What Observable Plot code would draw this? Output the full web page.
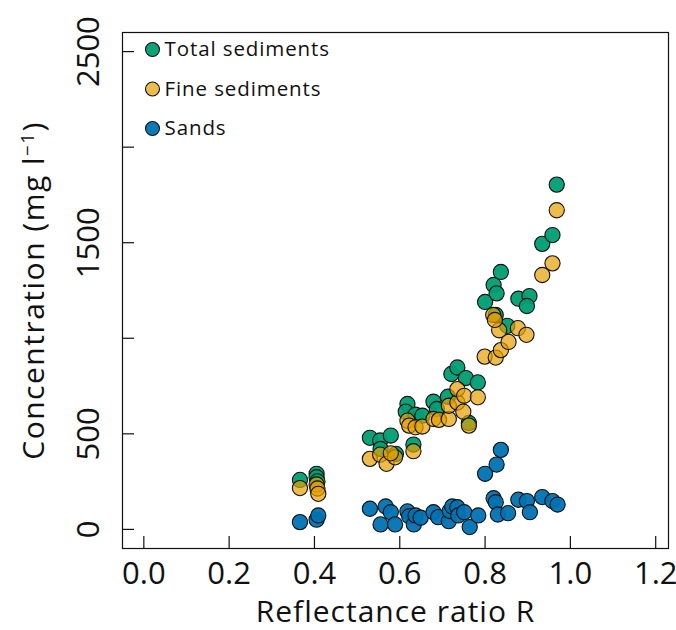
<!DOCTYPE html>
<html>
<head>
<meta charset="utf-8">
<script src="https://cdn.jsdelivr.net/npm/d3@7"></script>
<script src="https://cdn.jsdelivr.net/npm/@observablehq/plot@0.6"></script>
<style>
  body { margin: 0; background: #fff; }
  #chart svg { font-family: "Open Sans", Lato, sans-serif; }
</style>
</head>
<body>
<div id="chart"></div>
<script>
// Series names and colours
const seriesNames = ["Total sediments", "Fine sediments", "Sands"];
const seriesColors = ["#009E73", "#E69F00", "#0072B2"];
const seriesOpacity = [0.95, 0.7, 0.95];

// Total sediments: reflectance ratio R and concentration (mg/l)
const totalR = [0.366, 0.405, 0.405, 0.407, 0.530, 0.554, 0.579, 0.555, 0.591, 0.632,
  0.618, 0.614, 0.637, 0.653, 0.679, 0.687, 0.713, 0.721, 0.735, 0.755, 0.783, 0.762,
  0.800, 0.820, 0.827, 0.837, 0.825, 0.852, 0.878, 0.904, 0.898, 0.934, 0.958, 0.968];
const totalC = [259, 291, 273, 251, 479, 465, 491, 421, 395, 444,
  656, 616, 600, 595, 668, 630, 694, 813, 847, 792, 769, 557,
  1190, 1279, 1235, 1347, 1122, 1065, 1207, 1221, 1169, 1494, 1540, 1804];

// Fine sediments
const fineR = [0.366, 0.405, 0.407, 0.409, 0.530, 0.554, 0.569, 0.589, 0.579, 0.632,
  0.618, 0.622, 0.637, 0.653, 0.679, 0.692, 0.715, 0.715, 0.735, 0.735, 0.751, 0.749,
  0.783, 0.762, 0.799, 0.825, 0.837, 0.855, 0.833, 0.819, 0.823, 0.877, 0.897, 0.934,
  0.958, 0.968];
const fineC = [216, 235, 214, 186, 369, 391, 343, 377, 398, 409,
  569, 543, 534, 538, 578, 573, 578, 647, 664, 734, 699, 616,
  691, 543, 904, 899, 938, 981, 1042, 1122, 1096, 1053, 1018, 1331,
  1392, 1670];

// Sands
const sandR = [0.366, 0.405, 0.409, 0.530, 0.555, 0.567, 0.579, 0.589, 0.618, 0.622,
  0.633, 0.637, 0.649, 0.679, 0.690, 0.715, 0.717, 0.723, 0.735, 0.737, 0.751, 0.764,
  0.784, 0.800, 0.827, 0.837, 0.820, 0.825, 0.830, 0.854, 0.878, 0.898, 0.905, 0.934,
  0.958, 0.970];
const sandC = [38, 51, 73, 108, 26, 120, 90, 26, 94, 69,
  26, 73, 61, 90, 64, 43, 96, 120, 116, 73, 90, 12,
  73, 291, 339, 416, 163, 142, 78, 85, 155, 148, 90, 169,
  148, 130];

// Axis ticks
const xTicks = [0, 0.2, 0.4, 0.6, 0.8, 1.0, 1.2];
const yTicks = [0, 500, 1000, 1500, 2000, 2500];
const yTickLabels = [0, 500, 1500, 2500];

const toRows = (rs, cs, name) => rs.map((r, i) => ({R: r, C: cs[i], series: name}));
const seriesData = [
  toRows(totalR, totalC, seriesNames[0]),
  toRows(fineR, fineC, seriesNames[1]),
  toRows(sandR, sandC, seriesNames[2])
];

const dotMarks = seriesData.map((rows, i) =>
  Plot.dot(rows, {
    x: "R", y: "C", r: 7.6,
    fill: seriesColors[i], fillOpacity: seriesOpacity[i],
    stroke: "#111", strokeWidth: 1.1
  })
);

// Legend in the upper-left corner of the frame
const legendMarks = seriesNames.flatMap((name, i) => [
  Plot.dot([name], {
    frameAnchor: "top-left", dx: 30, dy: 17 + 39.5 * i, r: 7,
    fill: seriesColors[i], fillOpacity: seriesOpacity[i],
    stroke: "#111", strokeWidth: 1.1
  }),
  Plot.text([name], {
    frameAnchor: "top-left", dx: 42, dy: 17 + 39.5 * i, text: d => d,
    textAnchor: "start", lineAnchor: "middle", fontSize: 20.5, fill: "#111",
    className: "legend-text"
  })
]);

const chart = Plot.plot({
  width: 676,
  height: 630,
  marginLeft: 122,
  marginRight: 8,
  marginTop: 32,
  marginBottom: 82,
  style: {fontFamily: "'Open Sans', Lato, sans-serif", color: "#111", background: "#fff"},
  x: {domain: [-0.05, 1.23]},
  y: {domain: [-100, 2600]},
  marks: [
    Plot.frame({stroke: "#111", strokeWidth: 1.2}),
    // inward tick marks
    Plot.axisX({ticks: xTicks, tickSize: -12, tickFormat: () => "", label: null, strokeWidth: 1.2}),
    Plot.axisY({ticks: yTicks, tickSize: -12, tickFormat: () => "", label: null, strokeWidth: 1.2}),
    // tick labels and titles
    Plot.axisX({
      ticks: xTicks, tickSize: 0, tickPadding: 13, tickFormat: d3.format(".1f"),
      fontSize: 31, label: "Reflectance ratio R", labelAnchor: "center",
      labelOffset: 73, labelArrow: "none"
    }),
    Plot.axisY({
      ticks: yTicks, tickSize: 0, tickPadding: 24, tickRotate: -90,
      tickFormat: d => yTickLabels.includes(d) ? String(d) : "",
      fontSize: 31, label: "Concentration (mg l−1)", labelAnchor: "center",
      labelOffset: 100, labelArrow: "none"
    }),
    ...dotMarks,
    ...legendMarks
  ]
});

document.getElementById("chart").appendChild(chart);

// Axis title and legend lettering; raise the exponent of the unit
const svg = d3.select(chart);
svg.selectAll("g[aria-label='x-axis label'] text")
  .attr("font-size", 30).attr("letter-spacing", "1px");
svg.selectAll(".legend-text text").attr("letter-spacing", "0.9px");
svg.selectAll("g[aria-label='y-axis label'] text").each(function () {
  const t = d3.select(this);
  t.attr("font-size", 30).attr("letter-spacing", "1.5px");
  t.text(null);
  t.append("tspan").text("Concentration (mg l");
  t.append("tspan").attr("dy", "-0.55em").attr("font-size", "0.62em").text("−1");
  t.append("tspan").attr("dy", "0.34em").text(")");
});
</script>
</body>
</html>
